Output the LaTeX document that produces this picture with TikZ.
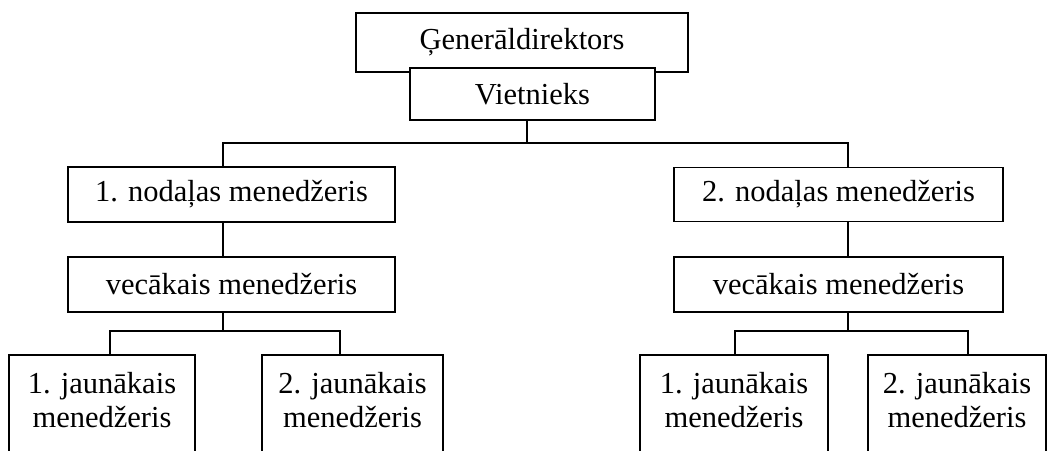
\documentclass[tikz,border=0pt]{standalone}
\usepackage{fontspec}
\setmainfont{Liberation Serif}
\usepackage{tikz}
\usetikzlibrary{positioning}
\tikzset{
  BOX/.style={% Style for the one-line boxes
      rectangle, line width=1.6pt,
      align=center,
      text=black,
      inner sep=0pt,
      fill=white,
      draw=black,
      font=\fontsize{30.5}{34}\selectfont,
  },
  JUN/.style={% Style for the two-line boxes, cut off at the bottom
      BOX,
      anchor=north,
      text height=73pt, % top of box to last baseline
      text depth=40pt, % runs out of the picture
  },
  LINK/.style={line width=1.6pt}
}
\begin{document}
\begin{tikzpicture}[x=1pt,y=-1pt]
  \useasboundingbox (0,0) rectangle (1048,450);
  \clip (0,0) rectangle (1048,450);
  % top of the tree
  \node[BOX, minimum width=332pt, minimum height=59pt] (GenDir) at (522,42.5) {Ģenerāldirektors};
  \node[BOX, minimum width=245pt, minimum height=52pt] (Viet) at (532.5,94) {Vietnieks};
  % departments
  \node[BOX, minimum width=327pt, minimum height=55pt] (Nod1) at (231.5,194.5) {1. nodaļas menedžeris};
  \node[BOX, minimum width=329pt, minimum height=54pt] (Nod2) at (838.5,194.5) {2. nodaļas menedžeris};
  \node[BOX, minimum width=327pt, minimum height=55pt] (Vec1) at (231.5,284.5) {vecākais menedžeris};
  \node[BOX, minimum width=329pt, minimum height=55pt] (Vec2) at (838.5,284.5) {vecākais menedžeris};
  % junior managers: number/centre/width/shift of the connector
  \foreach \n/\t/\x/\w/\s in {1/1/102/186/8, 2/2/352.5/181/-12.5, 3/1/734/188/1, 4/2/957/178/11} {%
    \node[JUN, minimum width=\w pt] (Jun\n) at (\x,354) {\t. jaunākais\\menedžeris};
    \coordinate (J\n) at ([xshift=\s pt]Jun\n.north); % top end of the connector
  }
  \draw[LINK] ([xshift=-5.5pt]Viet.south) -- ++(0,22) coordinate (bus);
  \draw[LINK] ([xshift=-8.5pt]Nod1.north) |- (bus) -| ([xshift=9.5pt]Nod2.north);
  \draw[LINK] ([xshift=-8.5pt]Nod1.south) -- ([xshift=-8.5pt]Vec1.north);
  \draw[LINK] ([xshift=9.5pt]Nod2.south) -- ([xshift=9.5pt]Vec2.north);
  \draw[LINK] ([xshift=-8.5pt]Vec1.south) -- ++(0,18) coordinate (fork1);
  \draw[LINK] ([xshift=9.5pt]Vec2.south) -- ++(0,18) coordinate (fork2);
  \draw[LINK] (J1) |- (fork1) -| (J2);
  \draw[LINK] (J3) |- (fork2) -| (J4);
\end{tikzpicture}
\end{document}
